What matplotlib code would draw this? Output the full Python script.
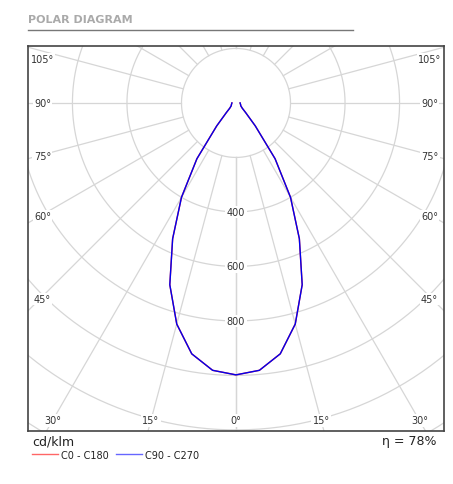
import numpy as np
import matplotlib
matplotlib.use("Agg")
import matplotlib.pyplot as plt
from matplotlib.lines import Line2D

angles_deg = [0, 5, 10, 15, 20, 25, 30, 35, 40, 45, 50, 60, 70, 80, 90]
c0_c180 = [998, 985, 935, 840, 710, 550, 400, 250, 110, 50, 30, 20, 18, 16, 15]
c90_c270 = [998, 985, 935, 840, 710, 550, 400, 250, 110, 50, 30, 20, 18, 16, 15]
ring_labels = [400, 600, 800]
rings = [200, 400, 600, 800, 1000, 1200, 1400]

W, H = 453, 485
fig = plt.figure(figsize=(W/100, H/100), dpi=100)
ax = fig.add_axes([28/W, (H-432)/H, 416/W, 385/H])
ax.set_xlim(-763, 763)
ax.set_ylim(-1204, 209)
ax.set_aspect('auto')
ax.set_xticks([]); ax.set_yticks([])
for s in ax.spines.values():
    s.set_color('#444444'); s.set_linewidth(1.2)

gc = '#d6d6d6'
t = np.linspace(0, 2*np.pi, 400)
for r in rings:
    ax.plot(r*np.sin(t), r*np.cos(t), color=gc, lw=0.9, zorder=1)
for a in range(0, 181, 15):
    rad = np.radians(a)
    for sgn in (1, -1):
        ax.plot([sgn*200*np.sin(rad), sgn*3000*np.sin(rad)],
                [-200*np.cos(rad), -3000*np.cos(rad)], color=gc, lw=0.9, zorder=1)

def curve(vals):
    th = np.radians(np.array(angles_deg, float))
    v = np.array(vals, float)
    th_full = np.concatenate([-th[::-1], th[1:]])
    v_full = np.concatenate([v[::-1], v[1:]])
    return v_full*np.sin(th_full), -v_full*np.cos(th_full)

x, y = curve(c0_c180)
ax.plot(x, y, color='#ff3333', lw=1, zorder=3)
x, y = curve(c90_c270)
ax.plot(x, y, color='#0000ee', lw=1, zorder=4)

bb = dict(facecolor='white', edgecolor='none', pad=1)
for r in ring_labels:
    ax.text(0, -r, str(r), ha='center', va='center', fontsize=7, color='#333333', bbox=bb, zorder=2)

for a in [45, 60, 75, 90, 105]:
    rad = np.radians(a)
    xx = 720
    yy = -xx/np.tan(rad) if a != 90 else 0
    yy = min(yy, 160)
    for sgn in (1, -1):
        ax.text(sgn*(xx-10), yy, f"{a}°", ha='center', va='center', fontsize=7, color='#333333', bbox=bb, zorder=2)
for a in [0, 15, 30]:
    rad = np.radians(a)
    xx = min(1165*np.tan(rad), 715)
    for sgn in ((1, -1) if a else (1,)):
        ax.text(sgn*xx, -1165, f"{a}°", ha='center', va='center', fontsize=7, color='#333333', bbox=bb, zorder=2)

fig.text(28/W, 1-20/H, "POLAR DIAGRAM", fontsize=8, fontweight='bold', color='#aaaaaa', va='center')
fig.add_artist(Line2D([28/W, 353/W], [1-31/H, 1-31/H], color='#777777', lw=1))
fig.text(32/W, 1-442/H, "cd/klm", fontsize=9, color='#222222', va='center')
fig.text(437/W, 1-442/H, "η = 78%", fontsize=9, color='#222222', va='center', ha='right')
fig.add_artist(Line2D([32/W, 58/W], [1-455/H]*2, color='#ff6666', lw=1))
fig.text(61/W, 1-456/H, "C0 - C180", fontsize=7, color='#222222', va='center')
fig.add_artist(Line2D([116/W, 142/W], [1-455/H]*2, color='#6666ff', lw=1))
fig.text(145/W, 1-456/H, "C90 - C270", fontsize=7, color='#222222', va='center')

fig.savefig("out.png", dpi=100)
